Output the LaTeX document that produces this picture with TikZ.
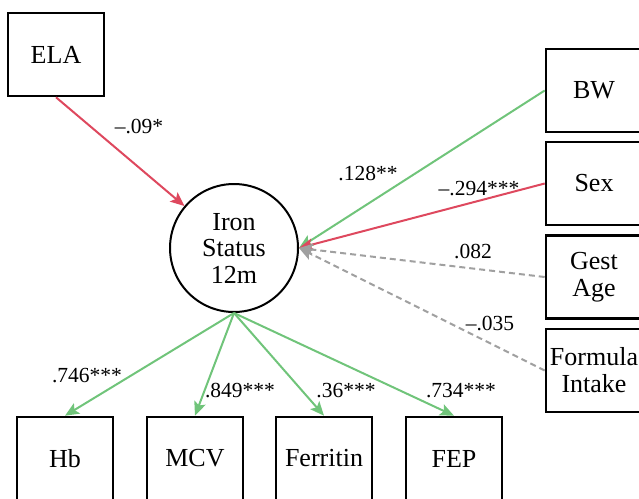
\documentclass[tikz,border=0pt]{standalone}
\usepackage{fontspec}
\setmainfont{Liberation Serif}
\usetikzlibrary{arrows.meta}
\definecolor{pgreen}{RGB}{112,196,122}
\definecolor{pred}{RGB}{222,72,94}
\definecolor{pgray}{RGB}{160,160,160}
\tikzset{
  var/.style={draw=black, line width=2.6pt, minimum width=96pt, minimum height=83pt, inner sep=0pt, align=center, font=\fontsize{26}{27}\selectfont},
  latent/.style={draw=black, circle, line width=2pt, minimum size=128pt, inner sep=0pt, align=center, font=\fontsize{26}{26.5}\selectfont},
  pathlab/.style={anchor=base, inner sep=0pt, font=\fontsize{21.5}{22}\selectfont},
  arr/.style={line width=2pt, -{Stealth[length=14pt,width=12pt,inset=3pt]}},
  posedge/.style={arr, pgreen},
  negedge/.style={arr, pred},
  nsedge/.style={arr, pgray, dash pattern=on 6pt off 4pt}
}
\begin{document}
\begin{tikzpicture}[x=1pt,y=-1pt]
\useasboundingbox (0,0) rectangle (639,498);
\clip (0,0) rectangle (639,498);
\node[var] (ela) at (56,54.5) {ELA};
\node[latent] (iron) at (234,248) {Iron\\Status\\12m};
\node[var] (bw) at (594,90.5) {BW};
\node[var] (sex) at (594,183.5) {Sex};
\node[var] (gest) at (594,277) {Gest\\Age};
\node[var] (form) at (594,370.5) {Formula\\Intake};
\node[var] (hb) at (65,458.5) {Hb};
\node[var] (mcv) at (195,458.5) {MCV};
\node[var] (fer) at (324,458.5) {Ferritin};
\node[var] (fep) at (454,458.5) {FEP};
\draw[negedge] (ela.south) -- (iron);
\draw[posedge] (bw.west) -- (iron.east);
\draw[negedge] (sex.west) -- (iron.east);
\draw[nsedge] (gest.west) -- (iron.east);
\draw[nsedge] (form.west) -- (iron.east);
\draw[posedge] (iron.south) -- (hb.north);
\draw[posedge] (iron.south) -- (mcv.north);
\draw[posedge] (iron.south) -- (fer.north);
\draw[posedge] (iron.south) -- (fep.north);
\node[pathlab] (l1) at (139,133) {–.09*};
\node[pathlab] (l2) at (368,180) {.128**};
\node[pathlab] (l3) at (479,195) {–.294***};
\node[pathlab] (l4) at (473,258) {.082};
\node[pathlab] (l5) at (490,330) {–.035};
\node[pathlab] (l6) at (87,382) {.746***};
\node[pathlab] (l7) at (240,397) {.849***};
\node[pathlab] (l8) at (346,397) {.36***};
\node[pathlab] (l9) at (461,397) {.734***};
\end{tikzpicture}
\end{document}
